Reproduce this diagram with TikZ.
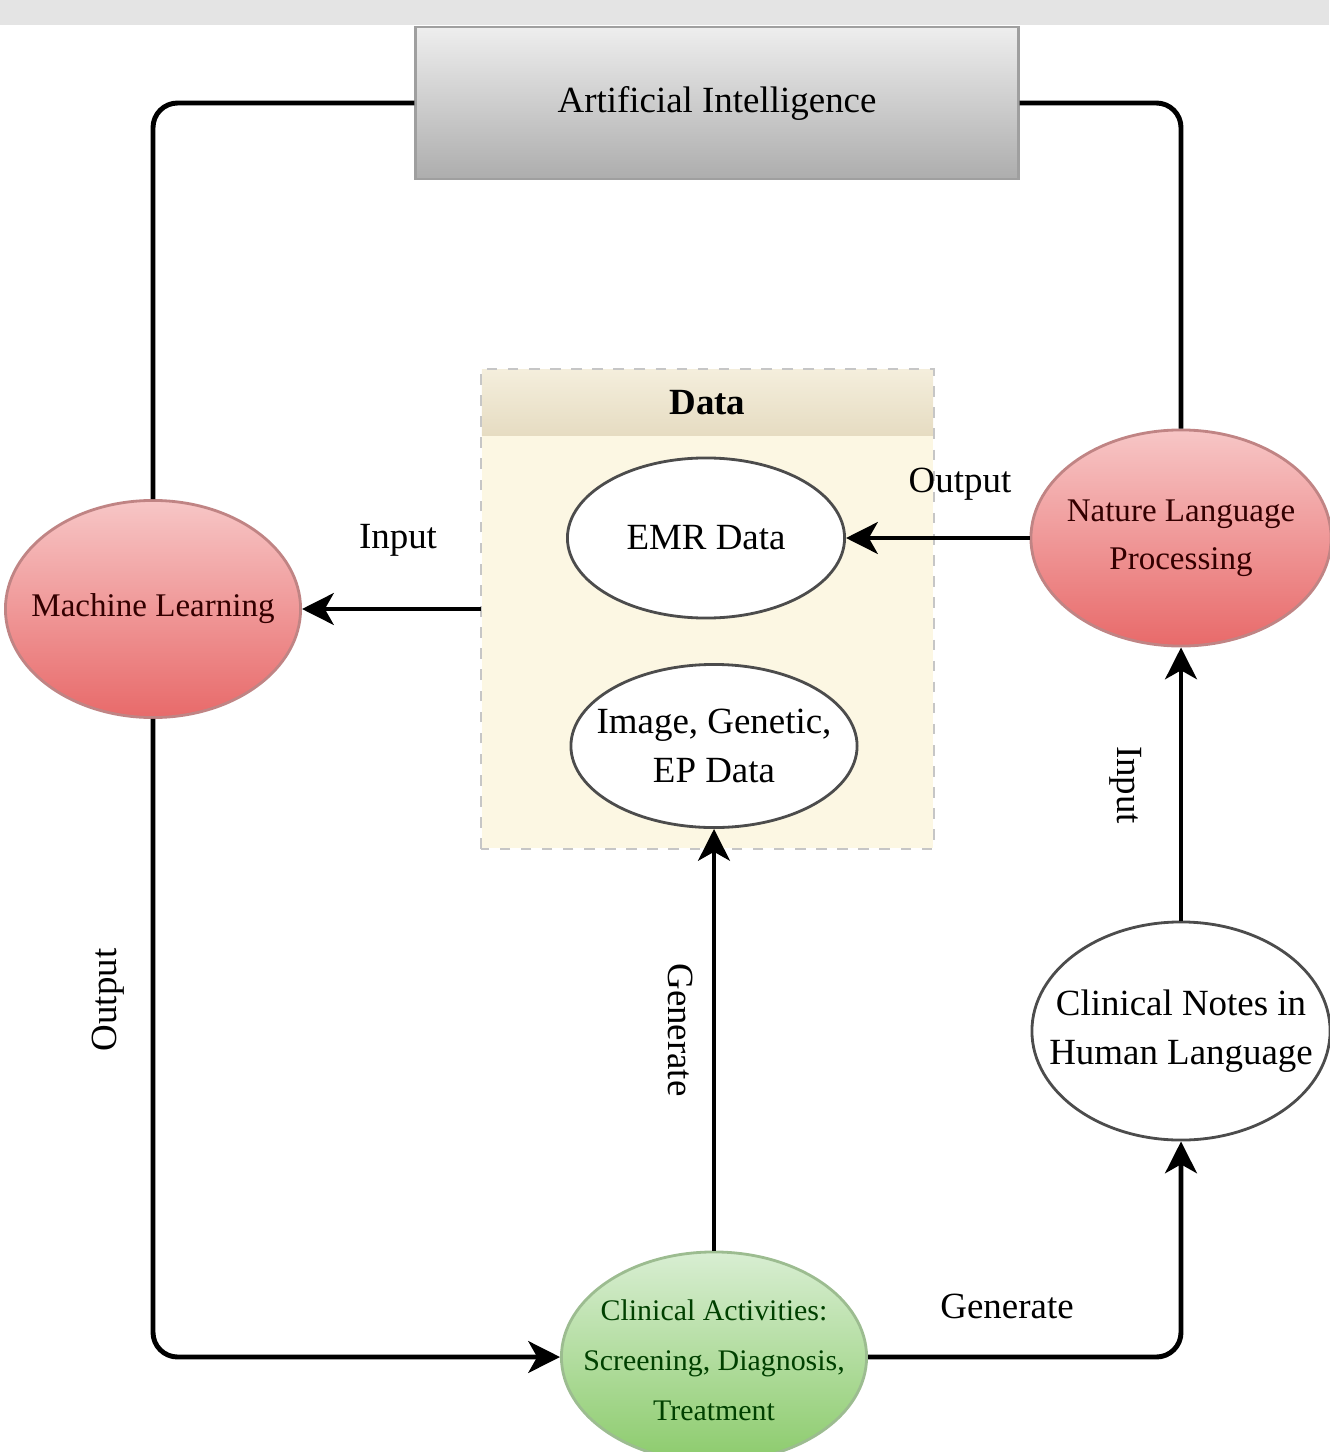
\documentclass[tikz,border=0pt]{standalone}
\usepackage{fontspec}
\setmainfont{Liberation Serif}
\usetikzlibrary{arrows.meta,shapes.geometric}
\definecolor{bandgray}{HTML}{E4E4E4}
\definecolor{aitop}{HTML}{EEEEEE}
\definecolor{aibot}{HTML}{ADADAD}
\definecolor{beigebody}{HTML}{FCF7E3}
\definecolor{beigetop}{HTML}{F4EEDC}
\definecolor{beigebot}{HTML}{E6DCC2}
\definecolor{redtop}{HTML}{F7C6C6}
\definecolor{redbot}{HTML}{E86A6A}
\definecolor{redline}{HTML}{C08484}
\definecolor{greentop}{HTML}{D8EED2}
\definecolor{greenbot}{HTML}{8CCB6C}
\definecolor{greenline}{HTML}{9CBC90}
\begin{document}
\begin{tikzpicture}[x=0.01cm,y=-0.01cm,
  plain/.style={line width=1.4pt, rounded corners=7pt},
  conn/.style={plain, -{Stealth[length=9pt,width=9pt,inset=2.5pt]}},
  lbl/.style={font=\fontsize{10.5}{13}\selectfont, inner sep=0pt},
  ell/.style={ellipse, draw=black!70, line width=0.8pt, inner sep=0pt},
  redell/.style={ell, draw=redline, top color=redtop, bottom color=redbot},
  whiteell/.style={ell, fill=white},
  etxt/.style={inner sep=0pt, align=center, font=\fontsize{10.5}{14}\selectfont},
  redtxt/.style={etxt, font=\fontsize{9.4}{13.7}\selectfont, text=black!80!red}
]
\useasboundingbox (0,0) rectangle (1329,1452);
\fill[bandgray] (0,0) rectangle (1329,25);

% Artificial Intelligence box
\node[draw=gray!75, line width=0.8pt, top color=aitop, bottom color=aibot,
  minimum width=6.02cm, minimum height=1.52cm, inner sep=0pt,
  font=\fontsize{10.5}{13}\selectfont] (ai) at (717,103) {Artificial Intelligence};

% Data container
\node[fill=beigebody, minimum width=4.51cm, minimum height=4.78cm, inner sep=0pt] (data) at (707.5,609) {};
\node[top color=beigetop, bottom color=beigebot, minimum width=4.51cm, minimum height=0.65cm,
  inner sep=0pt, font=\bfseries\fontsize{10.5}{13}\selectfont] (datahdr) at (707.5,402.5) {Data};
\draw[gray!45, dashed, line width=0.6pt] (data.south west) rectangle (data.north east);

% Ellipses (shapes)
\node[whiteell, minimum width=2.77cm, minimum height=1.60cm] (emr) at (706,538) {};
\node[whiteell, minimum width=2.86cm, minimum height=1.63cm] (img) at (714,746) {};
\node[redell, minimum width=2.95cm, minimum height=2.17cm] (ml) at (153,609) {};
\node[redell, minimum width=3.0cm, minimum height=2.16cm] (nlp) at (1181,538) {};
\node[whiteell, minimum width=2.98cm, minimum height=2.18cm] (notes) at (1181,1031) {};
\node[ell, draw=greenline, top color=greentop, bottom color=greenbot,
  minimum width=3.05cm, minimum height=2.1cm] (ca) at (714,1357) {};

% Ellipse texts
\node[etxt] (emrt) at (emr) {EMR Data};
\node[etxt] (imgt) at (img) {Image, Genetic,\\EP Data};
\node[redtxt] (mlt) at (ml) {Machine Learning};
\node[redtxt] (nlpt) at (nlp) {Nature Language\\Processing};
\node[etxt] (notest) at (notes) {Clinical Notes in\\Human Language};
\node[etxt, font=\fontsize{8.5}{14.2}\selectfont, text=black!75!green] (cat) at (714,1360)
  {Clinical Activities:\\Screening, Diagnosis,\\Treatment};

% Connectors
\draw[plain] (ai.west) -| (ml.north);
\draw[plain] (ai.east) -| (nlp.north);
\draw[conn] (data.west) -- (ml.east);
\draw[conn] (nlp.west) -- (emr.east);
\draw[conn] (ca.north) -- (img.south);
\draw[conn] (ml.south) |- (ca.west);
\draw[conn] (ca.east) -| (notes.south);
\draw[conn] (notes.north) -- (nlp.south);

% Labels
\node[lbl] (linput) at (398,540) {Input};
\node[lbl] (loutput) at (960,484) {Output};
\node[lbl, rotate=-90] (lgen) at (681,1030) {Generate};
\node[lbl, rotate=90] (lout2) at (108,1000) {Output};
\node[lbl, rotate=-90] (lin2) at (1126,785) {Input};
\node[lbl] (lgen2) at (1007,1306) {Generate};
\end{tikzpicture}
\end{document}
